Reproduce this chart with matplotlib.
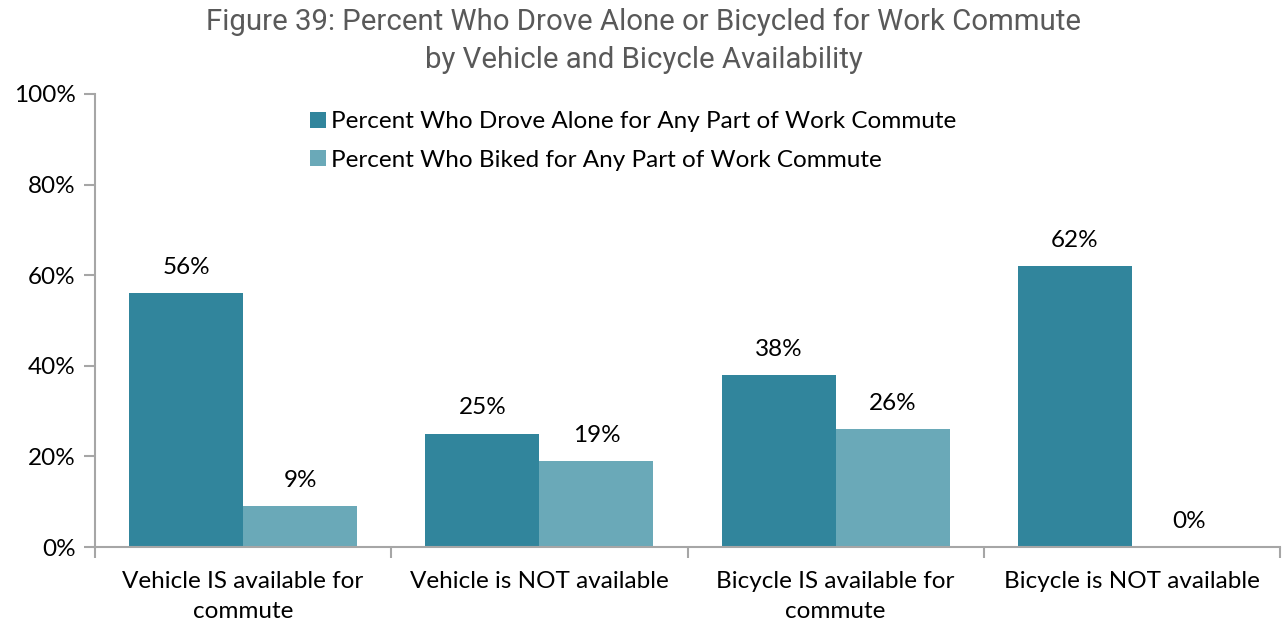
import numpy as np
import matplotlib.pyplot as plt
from matplotlib.ticker import FuncFormatter, FixedLocator

categories = ["Vehicle IS available for\ncommute", "Vehicle is NOT available",
              "Bicycle IS available for\ncommute", "Bicycle is NOT available"]
drove_alone = [56, 25, 38, 62]
biked = [9, 19, 26, 0]
series_names = ["Percent Who Drove Alone for Any Part of Work Commute",
                "Percent Who Biked for Any Part of Work Commute"]

dark = "#31859c"
light = "#6aa9b8"
axis_grey = "#a6a6a6"
label_font = ["Lato", "DejaVu Sans"]
fs = 17.5

fig = plt.figure(figsize=(12.87, 6.25), dpi=100)
ax = fig.add_axes([95 / 1287, 1 - 547 / 625, (1280 - 95) / 1287, (547 - 94) / 625])

x = np.arange(len(categories))
w = 0.385
b1 = ax.bar(x - w / 2, drove_alone, w, color=dark, label=series_names[0])
b2 = ax.bar(x + w / 2, biked, w, color=light, label=series_names[1])

# value labels above every bar
for bars, vals in ((b1, drove_alone), (b2, biked)):
    for rect, v in zip(bars, vals):
        ax.annotate(f"{v}%", (rect.get_x() + rect.get_width() / 2, v),
                    xytext=(0, 11), textcoords="offset points", ha="center", va="bottom",
                    fontsize=fs, family=label_font, color="#000000")

ax.set_xlim(-0.5, len(categories) - 0.5)
ax.set_ylim(0, 100)
ax.set_yticks(np.arange(0, 101, 20))
ax.yaxis.set_major_formatter(FuncFormatter(lambda v, p: f"{v:.0f}%"))

# category labels centred, ticks on category boundaries
ax.set_xticks(x)
ax.set_xticklabels(categories, fontsize=fs, family=label_font, linespacing=1.55)
ax.xaxis.set_minor_locator(FixedLocator(np.arange(-0.5, len(categories), 1)))
ax.tick_params(axis="x", which="major", length=0, pad=17)
ax.tick_params(axis="x", which="minor", length=8, color=axis_grey, width=1.5, direction="out")
ax.tick_params(axis="y", length=8, color=axis_grey, width=1.5, pad=6, labelsize=fs)
for t in ax.get_yticklabels():
    t.set_family(label_font)

for s in ("top", "right"):
    ax.spines[s].set_visible(False)
for s in ("left", "bottom"):
    ax.spines[s].set_color(axis_grey)
    ax.spines[s].set_linewidth(1.5)

leg = ax.legend(loc="upper left", bbox_to_anchor=(0.163, 1.01), frameon=False,
                prop={"family": label_font, "size": fs}, handlelength=0.65,
                handleheight=0.65, handletextpad=0.2, labelspacing=0.72)

fig.text(0.5, 0.988, "Figure 39: Percent Who Drove Alone or Bicycled for Work Commute\n"
         "by Vehicle and Bicycle Availability", ha="center", va="top",
         fontsize=21.2, family=["Roboto", "DejaVu Sans"], color="#595959", linespacing=1.45)

fig.savefig("out.png", dpi=100)
